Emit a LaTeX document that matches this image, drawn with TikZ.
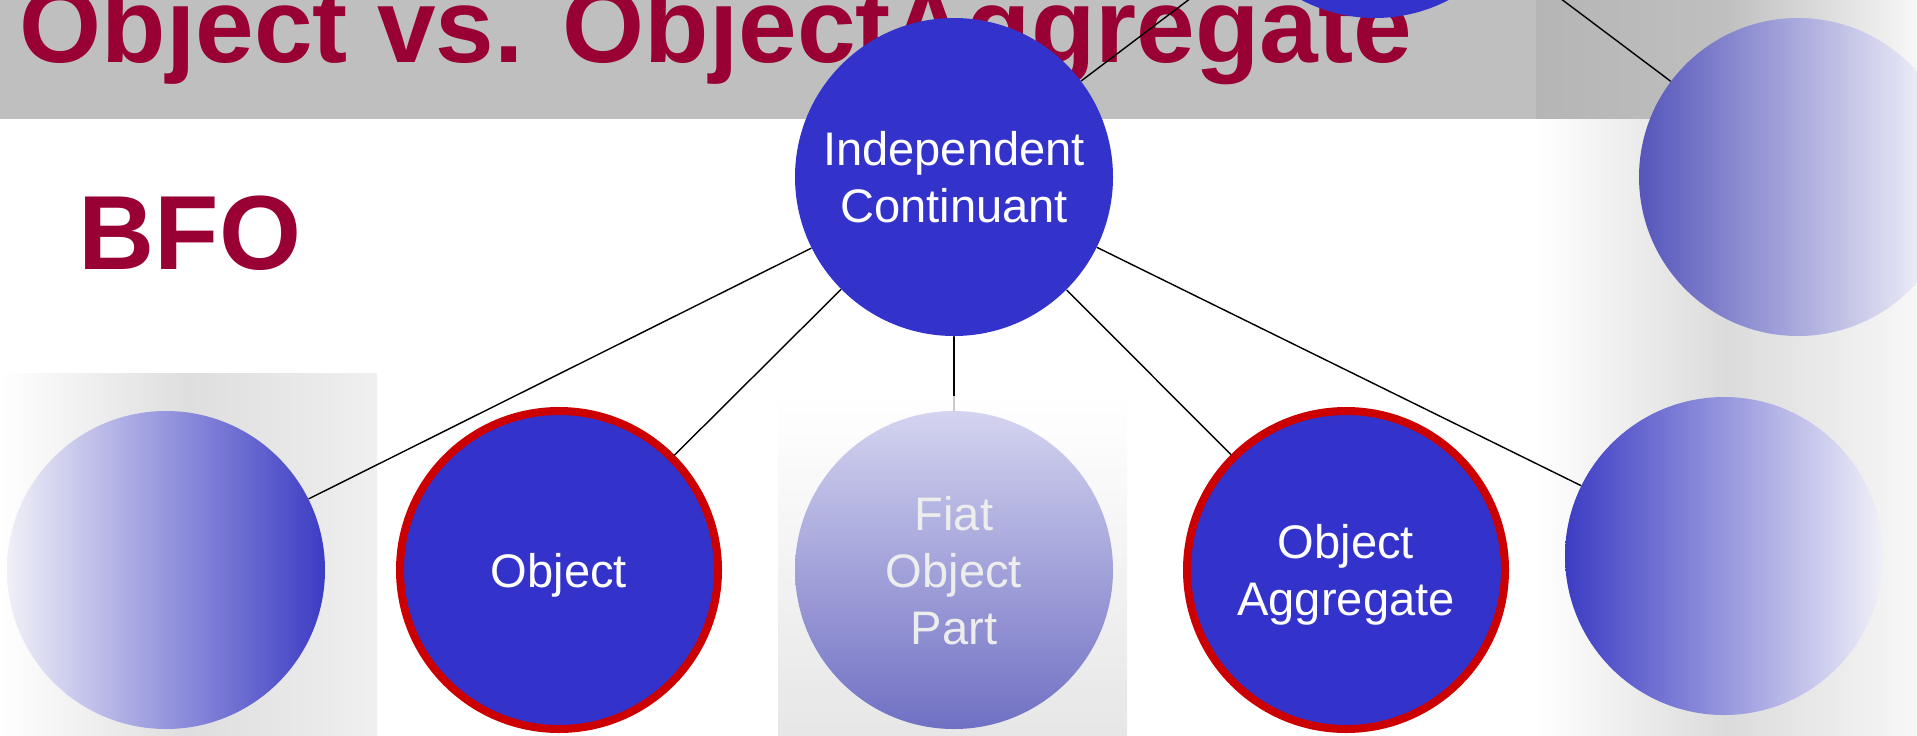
\documentclass[tikz,border=0pt]{standalone}
\usepackage{fontspec}
\setmainfont{Liberation Sans}
\definecolor{bfored}{HTML}{990033}
\definecolor{ballblue}{HTML}{3333CC}
\definecolor{ringred}{HTML}{CC0000}
\definecolor{deepblue}{HTML}{3C3CC4}
\definecolor{midblue}{HTML}{5555BB}
\definecolor{paleblue}{HTML}{F0F0F8}
\definecolor{fiattop}{HTML}{D4D4F0}
\definecolor{fiatbot}{HTML}{7070C4}
\begin{document}
\begin{tikzpicture}[line join=round,line cap=round,
	ball/.style={circle,minimum size=3.18cm,inner sep=0pt,align=center,text=white,text depth=0pt,font=\fontsize{13.4}{16.2}\selectfont},
	fullball/.style={ball,fill=ballblue},
	ringball/.style={fullball,draw=ringred,line width=0.08cm},
	headline/.style={anchor=base west,inner sep=0pt,text=bfored,font=\fontsize{30}{36}\selectfont\bfseries}]
	\clip (0,0) rectangle (19.17,7.35);
	\fill[black!25] (0,6.16) rectangle (15.36,7.35);
	\shade[left color=black!29,right color=black!3,middle color=black!25] (15.36,6.16) rectangle (19.17,7.35);
	\shade[left color=white,right color=black!3,middle color=black!14] (15.36,0) rectangle (19.17,6.16);
	\shade[left color=white,right color=black!6,middle color=black!13] (0,0) rectangle (3.77,3.62);
	\node[headline] (title) at (0.19,6.73) {Object vs. ObjectAggregate};
	\node[headline] (bfo) at (0.78,4.66) {BFO};

	\node[fullball] (top) at (13.75,8.76) {};
	\node[fullball] (ic) at (9.54,5.58) {Independent\\Continuant};
	\node[ball,left color=midblue,right color=white] (ur) at (17.98,5.58) {};
	\node[ball,left color=paleblue,right color=deepblue] (lft) at (1.66,1.65) {};
	\node[ringball] (obj) at (5.59,1.65) {Object};
	\node[ringball] (agg) at (13.46,1.65) {Object\\Aggregate};
	\node[ball,left color=deepblue,right color=paleblue] (rgt) at (17.24,1.79) {};
	\coordinate (fiatc) at (9.54,1.65);

	\draw (top)--(ic);
	\draw (top)--(ur);
	\draw (ic)--(lft);
	\draw (ic)--(obj);
	\draw (ic)--(agg);
	\draw (ic)--(rgt);
	\draw (ic)--(fiatc);
	\shade[top color=white,bottom color=black!12,opacity=0.8] (7.78,0) rectangle (11.27,3.39);
	\node[ball,top color=fiattop,bottom color=fiatbot,text=black!7] (fiat) at (fiatc) {Fiat\\Object\\Part};
\end{tikzpicture}
\end{document}
